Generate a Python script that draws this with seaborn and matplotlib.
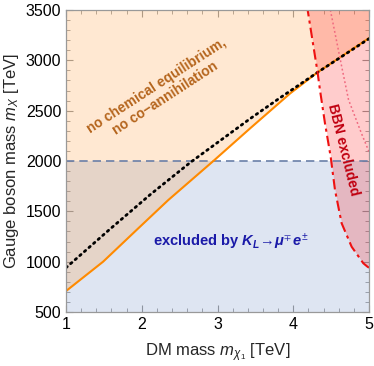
import matplotlib
matplotlib.use("Agg")
import matplotlib.pyplot as plt
import seaborn as sns
import numpy as np
from matplotlib.ticker import MultipleLocator

# ---- data ----
orange_x = [1.0, 1.49, 1.93, 2.35, 2.945, 3.43, 3.96, 4.32, 5.0]
orange_y = [708, 1000, 1314, 1612, 2000, 2324, 2672, 2880, 3221]

dotted_x = [1.0, 1.56, 2.11, 2.64, 3.43, 3.83, 4.32, 5.0]
dotted_y = [940, 1310, 1665, 1985, 2420, 2630, 2880, 3215]

bbn_x = [5.0, 4.98, 4.925, 4.771, 4.639, 4.551, 4.494, 4.419, 4.353, 4.32, 4.19]
bbn_y = [940, 950, 984, 1148, 1381, 1712, 2042, 2374, 2705, 2886, 3500]

bbn2_x = [4.49, 4.64, 4.73, 4.90, 5.0]
bbn2_y = [3500, 2936, 2608, 2275, 2092]

kaon_limit = 2000
xlim = [1, 5]
ylim = [500, 3500]

sns.set_theme(style="ticks")
plt.rcParams['font.family'] = ['Liberation Sans', 'DejaVu Sans']
plt.rcParams['mathtext.fontset'] = 'custom'
plt.rcParams['mathtext.rm'] = 'Liberation Sans'
plt.rcParams['mathtext.it'] = 'Liberation Sans:italic'
plt.rcParams['mathtext.bf'] = 'Liberation Sans:bold'
plt.rcParams['mathtext.bfit'] = 'Liberation Sans:bold:italic'
plt.rcParams['mathtext.fallback'] = 'stix'

fig = plt.figure(figsize=(3.74, 3.66), dpi=100)
ax = fig.add_axes([66/374, 1-312/366, 303/374, 302/366])

# regions
ax.fill_between(xlim, ylim[0], kaon_limit, color=(0.37, 0.5, 0.75), alpha=0.2, lw=0)
ax.fill_between(orange_x, orange_y, ylim[1], color=(1.0, 0.6, 0.2), alpha=0.22, lw=0)
ax.fill_betweenx(bbn_y, bbn_x, 5, color=(1.0, 0.0, 0.0), alpha=0.2, lw=0)

# lines
ax.axhline(kaon_limit, color='#6a7fa8', ls=(0, (5, 3)), lw=1.2)
sns.lineplot(x=orange_x, y=orange_y, sort=False, color='#ff8a00', lw=1.5, ax=ax)
sns.lineplot(x=dotted_x, y=dotted_y, sort=False, color='black', lw=2.0,
             ls=(0, (0.6, 1.6)), dash_capstyle='round', ax=ax)
sns.lineplot(x=bbn_x, y=bbn_y, sort=False, color='#ee1111', lw=1.5,
             ls=(0, (5, 2, 1.5, 2)), ax=ax)
sns.lineplot(x=bbn2_x, y=bbn2_y, sort=False, color='#f06a80', lw=1.1,
             ls=(0, (1.2, 1.6)), ax=ax)

# texts
ax.text(2.25, 2685, "no chemical equilibrium,\nno co\u2212annihilation", rotation=33,
        ha='center', va='center', color='#b5651d', fontsize=10, fontweight='bold',
        linespacing=1.1, rotation_mode='anchor')
ax.text(4.66, 2109, "BBN excluded", rotation=-76, ha='center', va='center',
        color='#c00010', fontsize=10, fontweight='bold', rotation_mode='anchor')
ax.text(3.17, 1195,
        r"excluded by $\mathbfit{K_L}\!\rightarrow\!\mathbfit{\mu}^{\mp}\,\mathbfit{e}^{\pm}$",
        ha='center', va='center', color='#1a1aa8', fontsize=10.5, fontweight='bold')

ax.set_xlim(xlim)
ax.set_ylim(ylim)
ax.xaxis.set_major_locator(MultipleLocator(1))
ax.xaxis.set_minor_locator(MultipleLocator(0.2))
ax.yaxis.set_major_locator(MultipleLocator(500))
ax.yaxis.set_minor_locator(MultipleLocator(100))
ax.tick_params(which='both', direction='in', top=True, right=True, color='#999999',
               labelsize=11.5, labelcolor='black')
ax.tick_params(which='major', length=5, width=0.8)
ax.tick_params(which='minor', length=3, width=0.6)
for s in ax.spines.values():
    s.set_color('#999999')
    s.set_linewidth(0.9)

ax.set_xlabel(r"DM mass $m_{\chi_1}$ [TeV]", fontsize=12, labelpad=7)
ax.set_ylabel(r"Gauge boson mass $m_X$ [TeV]", fontsize=12, labelpad=3)

fig.savefig("out.png", dpi=100)
